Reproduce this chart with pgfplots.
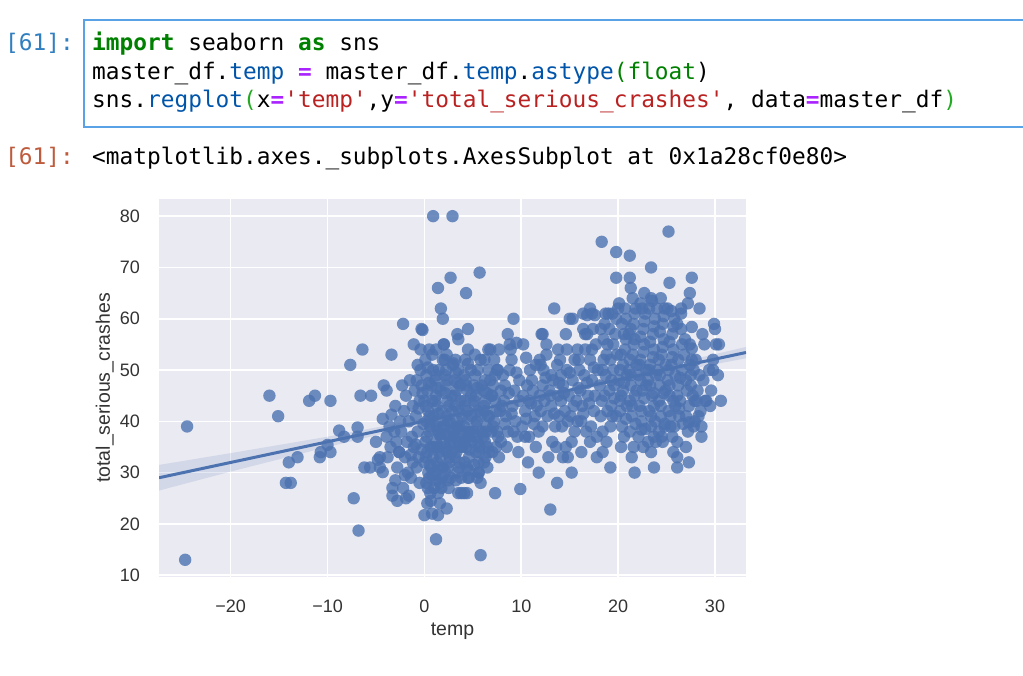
\documentclass[border=0pt]{standalone}
\usepackage{pgfplots}
\pgfplotsset{compat=1.18}
\usepackage{fontspec}
\setmainfont{Liberation Sans}
\setmonofont{DejaVu Sans Mono}
\definecolor{sbblue}{HTML}{4C72B0}
\definecolor{sbbg}{HTML}{EAEAF2}
\definecolor{tickc}{HTML}{333333}
\definecolor{kw}{HTML}{008000}
\definecolor{op}{HTML}{AA22FF}
\definecolor{prop}{HTML}{0055AA}
\definecolor{str}{HTML}{BA2121}
\definecolor{br}{HTML}{22AA22}
\definecolor{inprompt}{HTML}{307FC1}
\definecolor{outprompt}{HTML}{BF5B3D}
\definecolor{cellborder}{HTML}{5AA2E6}

\begin{document}
\begin{tikzpicture}
\useasboundingbox[fill=white] (0pt,0pt) rectangle (1023pt,676pt);

% notebook cell
\draw[cellborder, line width=2pt] (84pt,549pt) rectangle (1040pt,656pt);
\begin{scope}[every node/.style={anchor=base west, inner sep=0pt, font=\fontsize{22.8}{28}\selectfont\ttfamily}]
\node[text=inprompt] at (5pt,625pt) {[61]:};
\node at (92pt,625pt) {{\bfseries\color{kw}import} seaborn {\bfseries\color{kw}as} sns};
\node at (92pt,596.5pt) {master\_df.{\color{prop}temp} {\bfseries\color{op}=} master\_df.{\color{prop}temp}.{\color{prop}astype}{\color{kw}(float})};
\node at (92pt,568pt) {sns.{\color{prop}regplot}{\color{br}(}x{\bfseries\color{op}=}{\color{str}'temp'},y{\bfseries\color{op}=}{\color{str}'total\_serious\_crashes'}, data{\bfseries\color{op}=}master\_df{\color{br})}};
\node[text=outprompt] at (5pt,511pt) {[61]:};
\node at (92pt,511pt) {<matplotlib.axes.\_subplots.AxesSubplot at 0x1a28cf0e80>};
\end{scope}

\begin{axis}[
  at={(159pt,99pt)}, anchor=south west,
  scale only axis, width=587pt, height=378pt,
  xmin=-27.4, xmax=33.2, ymin=9.65, ymax=83.35,
  axis background/.style={fill=sbbg},
  axis line style={draw=none},
  major tick length=0pt,
  grid=major, major grid style={white, line width=1.6pt},
  xtick={-20,-10,0,10,20,30}, xticklabels={−20,−10,0,10,20,30},
  ytick={10,20,30,40,50,60,70,80}, yticklabels={10,20,30,40,50,60,70,80},
  tick label style={font=\fontsize{18}{20}\selectfont, text=tickc, inner sep=0pt},
  xticklabel style={anchor=base, yshift=-35.5pt},
  yticklabel style={anchor=east, xshift=-19pt},
  xlabel={temp}, ylabel={total\_serious\_crashes},
  label style={font=\fontsize{19.5}{22}\selectfont, text=tickc, inner sep=0pt},
  xlabel style={at={(axis description cs:0.5,-0.156)}, anchor=base},
  ylabel style={at={(axis description cs:-0.0835,0.5)}, anchor=base, rotate=0},
]
% scatter
\addplot[only marks, color=sbblue, mark=*, mark size=6.2pt, mark options={draw opacity=0, fill=sbblue, fill opacity=0.8}] coordinates {
(-24.5,39) (-24.7,13) (-16,45) (-15.1,41) (-14.3,28) (-13.8,28) (-14,32) (-13.1,33) (-11.9,44) (-11.3,45)
(-10.8,33) (-10.7,34) (-10,35.4) (-9.7,44) (-9.7,34) (-8.8,38.2) (-8.3,37) (-7.65,51) (-7.3,25) (-6.9,38.8)
(-6.9,37) (-6.8,18.7) (-6.6,45) (-6.4,54) (-6.2,31) (-5.6,31) (-5.5,45) (-5,36) (-4.8,32.5) (-4.6,31)
(-4.6,33) (-4.3,30.1) (-4.3,40.5) (-4.2,47) (-3.9,46) (-3.4,53) (-3.4,41.3) (-3.3,27) (-3.3,25.5) (-3,28.5)
(-2.8,24.5) (-2.6,34) (-2.2,59) (-1.9,25) (-1.1,55) (-0.7,51) (-0.4,54) (-0.3,58) (-0.2,57.8) (0,21.7)
(0.5,54) (0.9,80) (1.2,17) (1.4,21.7) (1.4,66) (1.7,62) (1.9,60) (2,55) (2.1,52) (2.3,23)
(2.7,68) (2.9,80) (3,51.3) (3.4,57) (3.5,56) (3.5,26) (3.8,26) (4.1,26) (4.4,26) (4.3,65)
(4.5,58) (4.5,29) (4.5,51.2) (5.7,69) (5.8,13.9) (5.6,30) (5.8,28) (6.6,54) (7.3,26) (7.5,50)
(7.7,54) (8.6,57) (8.8,55) (9.2,60) (9.5,55.3) (9.9,26.8) (10.2,55) (10.4,37) (10.5,52.4) (10.7,32)
(10.8,37) (11.5,51) (11.8,30) (11.9,52) (12.1,57) (12.2,57) (12.2,39) (12.6,55) (13,22.8) (13.1,49)
(13.4,62) (13.6,35) (13.7,28) (13.8,54) (14.1,49) (14.3,33) (14.6,57) (14.7,54) (14.8,33) (15,60)
(15.2,30) (15.3,60) (15.5,52) (15.8,54) (16.2,34) (16.4,61) (16.6,57) (16.8,60.7) (17.1,36) (17.1,62)
(17.3,61) (17.3,54) (17.6,60.7) (17.8,33) (18.3,75) (18.4,34) (18.7,61) (19,61) (19.2,31) (19.8,73)
(19.8,68) (20,62) (21.2,72.3) (21.2,68) (21.4,33) (21.7,30) (22.4,38.4) (22.7,65) (23.1,36) (23.4,70)
(23.4,64) (23.4,34) (23.7,31) (23.7,37) (24.5,37) (24.8,39) (25.2,77) (25.3,67) (25.7,34) (26.1,31)
(26.1,33) (26.1,36) (26.5,61) (27.2,63) (27.3,32) (27.3,39.8) (27.4,65) (27.4,55) (27.6,68) (27.6,58.4)
(27.6,54.2) (27.8,39) (27.9,44) (28.3,41) (28.4,62) (28.6,37) (28.7,57) (29,44) (29.5,43) (29.8,50)
(29.9,59) (30,58) (30.4,55) (30.6,44)
(-2.3,47) (-1.9,45) (-2.1,42) (-1.6,40) (-2.4,38) (-1.8,36) (-1.2,43) (-1.5,48) (-1.0,46) (-1.3,37)
(-2.0,33) (-1.7,30) (-1.4,29) (-1.1,35) (-0.9,41) (-0.7,38) (-0.6,33) (-0.8,31) (-0.5,44) (-0.4,50)
(-0.3,47) (-2.6,34) (-2.9,36) (-3.1,38) (-3.6,39) (-3.9,37) (-2.2,27) (-1.6,25.5)
(0.1,52) (0.2,49) (0.3,46) (0.0,44) (0.4,42) (0.2,40) (0.5,38) (0.1,36) (0.3,34) (0.0,32)
(0.4,30) (0.2,28) (0.6,26) (0.7,47) (0.8,44) (0.9,41) (0.6,39) (0.8,35) (0.9,33) (0.7,31)
(0.5,29) (0.9,50) (0.8,53) (1.0,27) (0.3,24) (0.8,22)
(1.1,48) (1.2,45) (1.3,43) (1.1,40) (1.4,38) (1.2,36) (1.5,34) (1.3,32) (1.1,30) (1.6,28)
(1.4,26) (1.7,46) (1.8,42) (1.9,39) (1.7,37) (1.6,35) (1.9,31) (1.8,29) (1.5,50) (1.9,52)
(1.2,54) (1.6,24)
(2.1,49) (2.2,47) (2.4,44) (2.3,41) (2.1,39) (2.5,37) (2.2,35) (2.6,33) (2.4,31) (2.7,29)
(2.8,45) (2.9,42) (2.6,40) (2.9,38) (2.7,36) (2.8,34) (2.5,27) (2.9,51) (2.3,53) (2.0,55)
(3.1,48) (3.3,46) (3.2,43) (3.4,40) (3.1,38) (3.5,36) (3.3,34) (3.6,32) (3.4,30) (3.8,29)
(3.7,44) (3.9,41) (3.6,39) (3.8,37) (3.9,35) (3.5,50) (3.2,52) (3.7,47)
(4.1,49) (4.3,47) (4.2,44) (4.4,42) (4.1,39) (4.5,37) (4.3,35) (4.6,33) (4.4,31) (4.8,45)
(4.9,41) (4.7,38) (4.9,36) (4.6,29) (4.2,52) (4.8,50) (4.5,54)
(5.1,47) (5.3,45) (5.2,43) (5.4,40) (5.1,38) (5.5,36) (5.3,34) (5.6,32) (5.8,41) (5.9,38)
(5.7,35) (5.9,47) (5.5,50) (5.2,53) (5.8,52) (5.6,30)
(6.1,46) (6.3,44) (6.2,42) (6.4,39) (6.1,37) (6.5,35) (6.3,33) (6.8,48) (6.9,45) (6.7,41)
(6.9,38) (6.6,50) (6.2,52) (6.8,54) (6.5,31)
(7.1,47) (7.3,44) (7.2,40) (7.5,38) (7.4,35) (7.8,42) (7.9,46) (7.6,50) (7.2,52) (7.7,33) (7.9,36)
(8.2,44) (8.4,41) (8.6,38) (8.3,47) (8.8,50) (8.5,35) (9.1,43) (9.3,46) (9.4,40) (9.0,52)
(9.6,37) (9.8,48) (8.9,54) (9.7,34)
(10.2,45) (10.4,42) (10.6,47) (10.1,39) (10.8,44) (10.9,50) (11.2,46) (11.4,41) (11.6,43) (11.1,48)
(11.8,38) (11.5,35) (11.9,45)
(12.2,47) (12.4,44) (12.7,41) (12.3,50) (12.9,46) (13.1,43) (13.3,48) (13.5,39) (13.2,36) (13.8,45)
(13.7,51) (12.6,53) (13.9,41) (12.8,33)
(14.1,44) (14.3,47) (14.5,42) (14.2,39) (14.7,50) (14.9,45) (15.1,41) (15.3,48) (15.5,38) (15.2,36)
(15.7,44) (15.9,52) (14.6,35) (15.8,40)
(16.1,46) (16.3,43) (16.5,49) (16.2,40) (16.7,38) (16.9,45) (17.1,52) (17.3,48) (17.5,42) (17.2,39)
(17.7,55) (17.9,50) (16.6,54) (17.6,45) (17.8,37) (16.4,58) (17.4,58) (16.8,57)
(18.1,47) (18.3,44) (18.5,52) (18.2,41) (18.7,49) (18.9,55) (19.1,46) (19.3,43) (19.5,50) (19.2,39)
(19.7,57) (19.9,53) (18.6,59) (19.6,47) (19.8,41) (18.4,38) (19.4,61) (18.8,36)
(20.1,48) (20.3,45) (20.5,51) (20.2,42) (20.7,54) (20.9,49) (20.4,39) (20.6,57) (20.8,60) (20.1,63)
(20.6,37) (20.3,35) (20.9,43) (20.5,46)
(21.1,50) (21.3,47) (21.5,53) (21.2,44) (21.7,56) (21.9,51) (21.4,41) (21.6,59) (21.8,62) (21.2,38)
(21.6,35) (21.9,46) (21.5,64) (21.1,57)
(22.1,49) (22.3,52) (22.5,46) (22.2,43) (22.7,55) (22.9,50) (22.4,40) (22.6,58) (22.8,61) (22.1,37)
(22.6,35) (22.9,47) (22.3,63)
(23.1,48) (23.3,51) (23.5,45) (23.2,42) (23.7,54) (23.9,49) (23.4,39) (23.6,57) (23.8,60) (23.2,62)
(23.7,43) (23.9,36)
(24.1,50) (24.3,47) (24.5,53) (24.2,44) (24.7,56) (24.9,51) (24.4,41) (24.6,59) (24.8,62) (24.2,38)
(24.6,36) (24.9,46) (24.4,64)
(25.1,48) (25.3,45) (25.5,51) (25.2,42) (25.7,54) (25.9,49) (25.4,39) (25.6,57) (25.8,60) (25.1,62)
(25.6,37) (25.9,43)
(26.2,47) (26.4,44) (26.6,50) (26.3,41) (26.8,53) (26.9,56) (27.1,46) (27.3,43) (27.5,49) (27.2,38)
(27.7,45) (27.9,40) (27.6,52) (26.5,58) (27.0,35)
(28.2,46) (28.5,42) (28.8,48) (29.1,44) (29.4,50) (29.6,46) (30.1,55) (29.8,52) (28.6,39) (30.3,49) (28.9,55)
(-0.8,48) (-0.2,45.5) (-0.6,42.5) (-0.1,39.5) (-0.9,35.5) (-0.3,34.5) (-0.5,28) (-1.2,32)
(0.35,50.5) (0.45,47.5) (0.15,43) (0.55,41) (0.25,37) (0.65,35) (0.15,33) (0.55,31.5) (0.85,29.5) (0.35,27) (0.65,24.5)
(1.25,49) (1.35,46.5) (1.15,44) (1.45,41.5) (1.25,39) (1.55,37.5) (1.35,35) (1.65,33) (1.45,31) (1.25,28.5) (1.75,27)
(2.25,50) (2.35,48) (2.15,45.5) (2.55,43) (2.35,40) (2.15,37.5) (2.65,35.5) (2.35,34) (2.55,32) (2.15,30) (2.45,28.5)
(3.25,49.5) (3.45,47.5) (3.15,45) (3.55,42) (3.35,39) (3.25,37) (3.65,35) (3.15,33) (3.55,31) (3.25,28.5)
(4.25,48) (4.45,46) (4.15,43) (4.55,40.5) (4.35,38) (4.25,36) (4.65,34.5) (4.15,32) (4.55,30.5)
(5.25,49) (5.45,46.5) (5.15,44) (5.55,42) (5.35,39) (5.25,37) (5.65,34) (5.15,31.5) (5.45,29)
(6.25,48) (6.45,45.5) (6.15,43) (6.55,41) (6.35,38) (6.25,36) (6.65,34) (6.15,32)
(7.0,45) (7.4,42) (7.1,39) (7.6,37) (7.3,49) (7.0,34)
(8.0,43) (8.3,39.5) (8.7,45.5) (8.1,49) (9.2,38) (9.5,49.5) (9.0,41.5) (9.8,44)
(18.6,45) (18.9,42) (18.4,50) (18.8,53) (18.5,56) (18.2,58)
(19.3,48) (19.6,44.5) (19.2,52) (19.5,55) (19.1,58) (19.8,60) (19.4,41)
(20.2,50) (20.6,47.5) (20.3,53) (20.8,56) (20.4,59) (20.7,62) (20.2,44) (20.8,40.5)
(21.3,49) (21.7,45) (21.2,52) (21.6,55) (21.3,58) (21.7,61) (21.4,43) (21.8,39.5) (21.3,66)
(22.3,48) (22.7,44.5) (22.2,51) (22.6,53.5) (22.3,56.5) (22.7,59.5) (22.4,42) (22.8,38.5) (22.5,62)
(23.3,47) (23.7,45.5) (23.2,50) (23.6,52.5) (23.3,55.5) (23.7,58.5) (23.4,41) (23.8,40) (23.5,63.5)
(24.3,49) (24.7,45.5) (24.2,52) (24.6,54.5) (24.3,57.5) (24.7,60.5) (24.4,43) (24.8,39.5) (24.0,62)
(25.3,47) (25.7,44) (25.2,50) (25.6,52.5) (25.3,55.5) (25.7,58.5) (25.4,41) (25.8,39) (25.5,61.5)
(26.1,45) (26.4,48.5) (26.2,52) (26.6,55) (26.3,42.5) (26.7,39.5) (26.1,59) (26.5,62)
(27.0,48) (27.4,51) (27.0,41) (27.5,47) (27.8,50) (28.1,44) (28.0,52) (28.4,49)
(10.5,40.5) (11.0,43.5) (11.3,39.5) (12.0,42) (12.5,48.5) (13.0,45) (13.4,41.5) (13.9,47.5) (14.4,45.5) (14.8,40)
(15.4,43) (15.9,46.5) (16.4,41.5) (16.8,47.5) (17.0,43.5) (17.5,50.5) (16.0,50) (15.0,49.5) (14.0,52) (12.0,51)
(-3.5,35) (-3.0,43) (-2.5,40) (-2.8,31) (-2,29.5) (-1.4,33.5) (-3.8,33)
};
% confidence band
\addplot[draw=none, fill=sbblue, fill opacity=0.15] coordinates {
(-27.4,31.5) (-20,33.8) (-10,37.0) (0,40.6) (10,44.5) (20,48.7) (33.2,54.5)
(33.2,52.3) (20,47.5) (10,43.6) (0,39.5) (-10,35.0) (-20,30.2) (-27.4,26.5)
};
% regression line
\addplot[sbblue, line width=3pt] coordinates {(-27.4,29.0) (33.2,53.42)};
\end{axis}
\end{tikzpicture}
\end{document}
